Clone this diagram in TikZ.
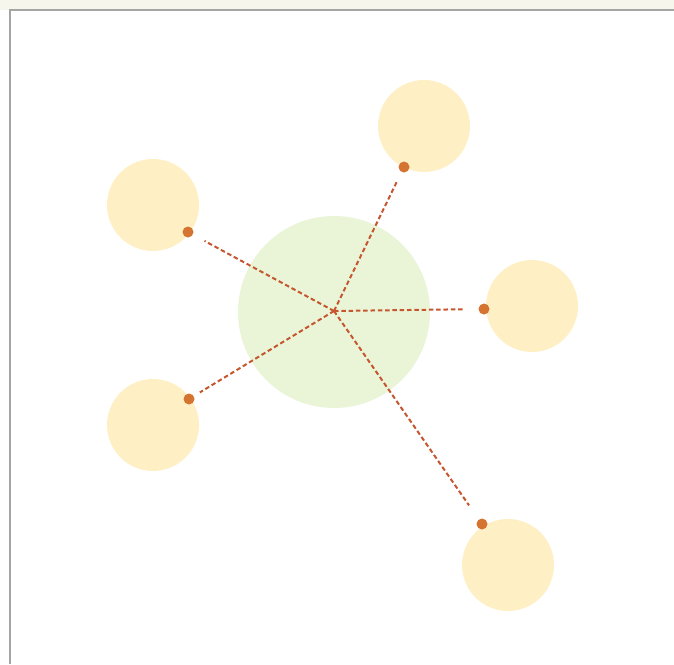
\documentclass[tikz,border=0pt]{standalone}
\usetikzlibrary{calc}
\definecolor{sat}{RGB}{254,240,196}
\definecolor{hub}{RGB}{234,245,216}
\definecolor{dotc}{RGB}{212,116,48}
\definecolor{linec}{RGB}{198,86,48}
\definecolor{topband}{RGB}{247,246,236}
\definecolor{framec}{RGB}{165,165,165}
\tikzset{
  satcircle/.style={circle,fill=sat,draw=none,minimum size=92pt,inner sep=0pt},
  hubcircle/.style={circle,fill=hub,draw=none,minimum size=192pt,inner sep=0pt},
  pin/.style={circle,fill=dotc,draw=none,minimum size=11pt,inner sep=0pt},
  spoke/.style={draw=linec,line width=2pt,dash pattern=on 4.5pt off 2.8pt},
}
\begin{document}
\begin{tikzpicture}[x=1pt,y=-1pt]
\useasboundingbox (0,0) rectangle (674,664);
\fill[white] (0,0) rectangle (674,664);
\fill[topband] (0,0) rectangle (674,10);
\draw[framec,line width=1.4pt] (674,10) -- (10,10) -- (10,664);
% hub
\node[hubcircle] (hub) at (334,312) {};
\coordinate (c) at (334,311);
% satellites
\node[satcircle] (s1) at (424,126) {};
\node[satcircle] (s2) at (153,205) {};
\node[satcircle] (s3) at (532,306) {};
\node[satcircle] (s4) at (153,425) {};
\node[satcircle] (s5) at (508,565) {};
% pins
\node[pin] (p1) at (404,167) {};
\node[pin] (p2) at (188,232) {};
\node[pin] (p3) at (484,309) {};
\node[pin] (p4) at (189,399) {};
\node[pin] (p5) at (482,524) {};
% spokes
\draw[spoke,shorten >=10pt] (c) -- (p1);
\draw[spoke,shorten >=13pt] (c) -- (p2);
\draw[spoke,shorten >=13pt] (c) -- (p3);
\draw[spoke,shorten >=7pt] (c) -- (p4);
\draw[spoke,shorten >=17pt] (c) -- (p5);
\end{tikzpicture}
\end{document}
